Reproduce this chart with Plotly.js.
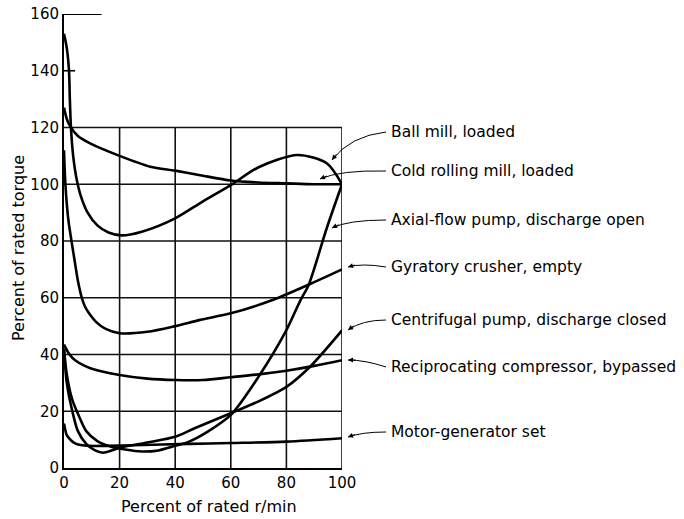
<!DOCTYPE html>
<html>
<head>
<meta charset="utf-8">
<script src="https://cdn.plot.ly/plotly-3.0.1.min.js"></script>
<style>html,body{margin:0;padding:0;background:#fff;}#chart{width:684px;height:519px;}</style>
</head>
<body>
<div id="chart"></div>
<script>
// ---- data (percent of rated r/min vs percent of rated torque) ----
const ballMillX = [0, 1, 1.8, 2.1, 2.5, 3.3, 4.5, 6, 8.5, 12, 16, 20.7, 28, 40, 50, 60, 70, 84, 94.5, 100];
const ballMillY = [153, 148, 140, 130, 120, 110, 102, 96, 90, 85.5, 83, 82, 83.3, 88, 94, 99.7, 106, 110.3, 107.4, 100];

const coldMillX = [0, 1, 2.2, 5, 9.4, 20, 31, 40, 49, 60, 70, 80, 90, 100];
const coldMillY = [127, 123, 120.5, 117, 114.4, 110, 106.2, 104.8, 103.2, 101.3, 100.6, 100.3, 100, 100];

const axialX = [0, 1, 3, 5.5, 8, 12, 17, 22, 28, 34, 40, 45, 52, 60, 70, 80, 85, 88, 94.5, 100];
const axialY = [42, 33, 24, 18, 13, 9.5, 7.5, 6.5, 5.8, 6.2, 7.8, 9.3, 13, 18.7, 32.2, 48.6, 59, 64.5, 84.5, 100];

const gyratoryX = [0, 0.5, 1.5, 2.7, 4, 5, 6.4, 7.5, 9, 11.5, 15, 20, 30, 40, 49, 60, 75, 90, 100];
const gyratoryY = [112, 100, 88, 80, 72, 66, 60, 57, 54.5, 51.5, 49, 47.5, 48, 50, 52.2, 54.5, 59.2, 65.5, 70];

const centrifugalX = [0, 1, 3, 5, 8, 11, 14, 20.7, 30, 40, 47, 60, 70, 80, 88.5, 100];
const centrifugalY = [42, 30, 20, 13, 8.5, 6.3, 5.4, 7.3, 9, 11, 14, 19.3, 23.5, 28.6, 35.7, 48.5];

const recipX = [0, 2, 4, 10, 20, 30, 40, 50, 60, 70, 80, 90, 100];
const recipY = [43.5, 40, 38, 35, 32.8, 31.5, 31, 31, 32, 33, 34.3, 36, 38];

const motorGenX = [0, 1, 2.5, 4, 6.5, 9, 15, 25, 45, 60, 80, 100];
const motorGenY = [15.7, 11.6, 9.8, 8.7, 8, 7.8, 7.8, 8, 8.5, 8.8, 9.3, 10.5];

const seriesNames = [
  "Ball mill, loaded",
  "Cold rolling mill, loaded",
  "Axial-flow pump, discharge open",
  "Gyratory crusher, empty",
  "Centrifugal pump, discharge closed",
  "Reciprocating compressor, bypassed",
  "Motor-generator set"
];

const xTickVals = [0, 20, 40, 60, 80, 100];
const yTickVals = [0, 20, 40, 60, 80, 100, 120, 140, 160];
const gridX = [20, 40, 60, 80, 100];
const gridY = [20, 40, 60, 80, 100, 120];

// ---- layout helpers ----
const M = {l: 64, r: 342, t: 14, b: 51};
const W = 684, H = 519;
const pw = W - M.l - M.r, ph = H - M.t - M.b;
const px2x = p => (p - M.l) / pw;
const py2y = p => (H - M.b - p) / ph;

const FONT = "DejaVu Sans, Liberation Sans, Arial, sans-serif";

const xs = [ballMillX, coldMillX, axialX, gyratoryX, centrifugalX, recipX, motorGenX];
const ys = [ballMillY, coldMillY, axialY, gyratoryY, centrifugalY, recipY, motorGenY];

const traces = xs.map((x, i) => ({
  type: "scatter", mode: "lines", x: x, y: ys[i], name: seriesNames[i],
  line: {color: "#000", width: 2.6, shape: "spline", smoothing: 0.8},
  hoverinfo: "skip", cliponaxis: false
}));

const shapes = [];
gridX.forEach(v => shapes.push({type: "line", xref: "x", yref: "y", x0: v, x1: v, y0: 0, y1: 120,
  line: {color: "#111", width: 1.6}, layer: "below"}));
gridY.forEach(v => shapes.push({type: "line", xref: "x", yref: "y", x0: 0, x1: 100, y0: v, y1: v,
  line: {color: "#111", width: 1.6}, layer: "below"}));
// short tick marks above the grid
shapes.push({type: "line", xref: "x", yref: "y", x0: 0, x1: 13.5, y0: 160, y1: 160, line: {color: "#000", width: 1.8}});
shapes.push({type: "line", xref: "x", yref: "y", x0: 0, x1: 4, y0: 140, y1: 140, line: {color: "#000", width: 1.6}});

// label positions (pixels): text y, leader control, arrow head
const labelPos = [
  {ty: 132, c: [350, 136], h: [332, 160]},
  {ty: 171, c: [340, 170], h: [320, 179]},
  {ty: 220, c: [348, 220], h: [332, 228]},
  {ty: 267, c: [362, 263], h: [348, 267]},
  {ty: 320, c: [362, 320], h: [348, 330]},
  {ty: 367, c: [365, 360], h: [348, 360]},
  {ty: 432, c: [362, 432], h: [348, 437]}
];

const annotations = [];
labelPos.forEach((p, i) => {
  const sx = 386, sy = p.ty;
  shapes.push({type: "path", xref: "paper", yref: "paper",
    path: `M ${px2x(sx)},${py2y(sy)} Q ${px2x(p.c[0])},${py2y(p.c[1])} ${px2x(p.h[0])},${py2y(p.h[1])}`,
    line: {color: "#000", width: 1}});
  annotations.push({xref: "paper", yref: "paper", x: px2x(389), y: py2y(p.ty), xanchor: "left", yanchor: "middle",
    text: seriesNames[i], showarrow: false, font: {family: FONT, size: 15.5, color: "#000"}});
  const dx = p.c[0] - p.h[0], dy = p.c[1] - p.h[1];
  const len = Math.hypot(dx, dy) || 1;
  annotations.push({xref: "paper", yref: "paper", x: px2x(p.h[0]), y: py2y(p.h[1]),
    ax: dx / len * 9, ay: dy / len * 9, text: "", showarrow: true,
    arrowhead: 2, arrowsize: 1, arrowwidth: 1, arrowcolor: "#000", standoff: 0});
});

annotations.push({xref: "paper", yref: "paper", x: px2x(18), y: py2y(248), textangle: -90,
  xanchor: "center", yanchor: "middle", showarrow: false, text: "Percent of rated torque",
  font: {family: FONT, size: 16, color: "#000"}});
annotations.push({xref: "paper", yref: "paper", x: px2x(209), y: py2y(507),
  xanchor: "center", yanchor: "middle", showarrow: false, text: "Percent of rated r/min",
  font: {family: FONT, size: 16, color: "#000"}});

const layout = {
  width: W, height: H, margin: M,
  paper_bgcolor: "#fff", plot_bgcolor: "rgba(0,0,0,0)",
  showlegend: false,
  xaxis: {range: [0, 100], tickvals: xTickVals, ticks: "", showgrid: false, zeroline: false,
    showline: true, linecolor: "#000", linewidth: 2, fixedrange: true,
    tickfont: {family: FONT, size: 15, color: "#000"}},
  yaxis: {range: [0, 160], tickvals: yTickVals, ticks: "", showgrid: false, zeroline: false,
    showline: true, linecolor: "#000", linewidth: 2, fixedrange: true,
    tickfont: {family: FONT, size: 15, color: "#000"}},
  shapes: shapes,
  annotations: annotations
};

Plotly.newPlot("chart", traces, layout, {staticPlot: true, displayModeBar: false});
</script>
</body>
</html>
